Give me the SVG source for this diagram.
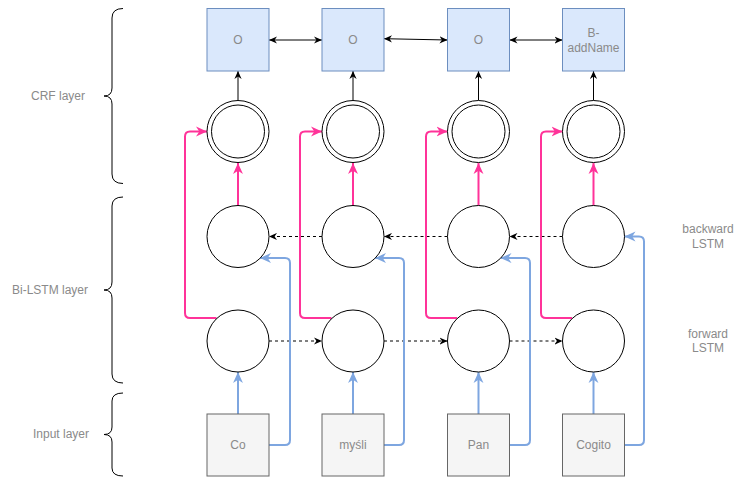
<svg xmlns="http://www.w3.org/2000/svg" width="737" height="477" viewBox="0 0 737 477">
<style>
text{font-family:"Liberation Sans",Arial,sans-serif;font-size:12px;fill:#8a8a8a;text-anchor:middle;dominant-baseline:central}
.out{fill:#dae8fc;stroke:#6c8ebf;stroke-width:1}
.inp{fill:#f5f5f5;stroke:#666666;stroke-width:1}
.c{fill:#fff;stroke:#000;stroke-width:1}
.blk{fill:none;stroke:#000;stroke-width:1}
.dash{fill:none;stroke:#000;stroke-width:1;stroke-dasharray:3 3}
.pink{fill:none;stroke:#ff3399;stroke-width:2;stroke-linejoin:round}
.blue{fill:none;stroke:#7ea6e0;stroke-width:2;stroke-linejoin:round}
.br{fill:none;stroke:#000;stroke-width:1}
</style>
<defs>
<marker id="ab" viewBox="0 0 10 10" refX="10" refY="5" markerWidth="8" markerHeight="8" markerUnits="userSpaceOnUse" orient="auto-start-reverse"><path d="M0,0.5 L10,5 L0,9.5 L3,5 Z" fill="#000"/></marker>
<marker id="ap" viewBox="0 0 10 10" refX="10" refY="5" markerWidth="11" markerHeight="11" markerUnits="userSpaceOnUse" orient="auto"><path d="M0,0.5 L10,5 L0,9.5 L3,5 Z" fill="#ff3399"/></marker>
<marker id="au" viewBox="0 0 10 10" refX="10" refY="5" markerWidth="11" markerHeight="11" markerUnits="userSpaceOnUse" orient="auto"><path d="M0,0.5 L10,5 L0,9.5 L3,5 Z" fill="#7ea6e0"/></marker>
</defs>

<g id="labels">
<path class="br" d="M123,8.5 Q112,8.5 112,18 L112,88 Q112,96 104,96 Q112,96 112,104 L112,174 Q112,183.5 123,183.5"/>
<text x="58" y="96">CRF layer</text>
<path class="br" d="M123,197 Q112,197 112,206 L112,282 Q112,290 104,290 Q112,290 112,298 L112,374 Q112,383 123,383"/>
<text x="50" y="290">Bi-LSTM layer</text>
<path class="br" d="M123,393 Q112,393 112,401 L112,427 Q112,434.5 104,434.5 Q112,434.5 112,442 L112,468 Q112,476 123,476"/>
<text x="61" y="434">Input layer</text>
<text x="708" y="229">backward</text>
<text x="708" y="244">LSTM</text>
<text x="708" y="334">forward</text>
<text x="708" y="348">LSTM</text>
</g>

<g id="connectors">
<!-- CRF circle to output -->
<path class="blk" d="M238,100.5 L238,71" marker-end="url(#ab)"/>
<path class="blk" d="M353,100.5 L353,71" marker-end="url(#ab)"/>
<path class="blk" d="M478.5,100.5 L478.5,71" marker-end="url(#ab)"/>
<path class="blk" d="M593.5,100.5 L593.5,71" marker-end="url(#ab)"/>
<!-- output chain -->
<path class="blk" d="M269,40 L322,40" marker-start="url(#ab)" marker-end="url(#ab)"/>
<path class="blk" d="M384,38.7 L447.5,40" marker-start="url(#ab)" marker-end="url(#ab)"/>
<path class="blk" d="M509.5,40 L562.5,40" marker-start="url(#ab)" marker-end="url(#ab)"/>
<!-- backward LSTM chain -->
<path class="dash" d="M322,236.5 L269,236.5" marker-end="url(#ab)"/>
<path class="dash" d="M447.5,236.5 L384,236.5" marker-end="url(#ab)"/>
<path class="dash" d="M562.5,236.5 L509.5,236.5" marker-end="url(#ab)"/>
<!-- forward LSTM chain -->
<path class="dash" d="M269,341 L322,341" marker-end="url(#ab)"/>
<path class="dash" d="M384,341 L447.5,341" marker-end="url(#ab)"/>
<path class="dash" d="M509.5,341 L562.5,341" marker-end="url(#ab)"/>
<!-- pink: backward to CRF -->
<path class="pink" d="M238,205.5 L238,163" marker-end="url(#ap)"/>
<path class="pink" d="M353,205.5 L353,163" marker-end="url(#ap)"/>
<path class="pink" d="M478.5,205.5 L478.5,163" marker-end="url(#ap)"/>
<path class="pink" d="M593.5,205.5 L593.5,163" marker-end="url(#ap)"/>
<!-- pink: forward to CRF -->
<path class="pink" d="M216.5,318 L190,318 Q185,318 185,313 L185,136.5 Q185,131.5 190,131.5 L207,131.5" marker-end="url(#ap)"/>
<path class="pink" d="M331.5,318 L305,318 Q300,318 300,313 L300,136.5 Q300,131.5 305,131.5 L322,131.5" marker-end="url(#ap)"/>
<path class="pink" d="M457,318 L431,318 Q426,318 426,313 L426,136.5 Q426,131.5 431,131.5 L447.5,131.5" marker-end="url(#ap)"/>
<path class="pink" d="M572,318 L546,318 Q541,318 541,313 L541,136.5 Q541,131.5 546,131.5 L562.5,131.5" marker-end="url(#ap)"/>
<!-- blue: input to forward -->
<path class="blue" d="M238,414 L238,372" marker-end="url(#au)"/>
<path class="blue" d="M353,414 L353,372" marker-end="url(#au)"/>
<path class="blue" d="M478.5,414 L478.5,372" marker-end="url(#au)"/>
<path class="blue" d="M593.5,414 L593.5,372" marker-end="url(#au)"/>
<!-- blue: input to backward -->
<path class="blue" d="M269,445 L285,445 Q290,445 290,440 L290,263 Q290,258 285,258 L260,258" marker-end="url(#au)"/>
<path class="blue" d="M384,445 L399,445 Q404,445 404,440 L404,263 Q404,258 399,258 L375,258" marker-end="url(#au)"/>
<path class="blue" d="M509.5,445 L525,445 Q530,445 530,440 L530,263 Q530,258 525,258 L500.5,258" marker-end="url(#au)"/>
<path class="blue" d="M624.5,445 L639,445 Q644,445 644,440 L644,241.5 Q644,236.5 639,236.5 L624.5,236.5" marker-end="url(#au)"/>
</g>

<g id="out1"><rect class="out" x="207" y="8.5" width="62" height="62.5"/><text x="238" y="40">O</text></g>
<g id="out2"><rect class="out" x="322" y="8.5" width="62" height="62.5"/><text x="353" y="40">O</text></g>
<g id="out3"><rect class="out" x="447.5" y="8.5" width="62" height="62.5"/><text x="478.5" y="40">O</text></g>
<g id="out4"><rect class="out" x="562.5" y="8.5" width="62" height="62.5"/><text x="593.5" y="33">B-</text><text x="593.5" y="47.5">addName</text></g>

<g id="crf1"><circle class="c" cx="238" cy="131.5" r="31"/><circle class="c" cx="238" cy="131.5" r="26.5"/></g>
<g id="crf2"><circle class="c" cx="353" cy="131.5" r="31"/><circle class="c" cx="353" cy="131.5" r="26.5"/></g>
<g id="crf3"><circle class="c" cx="478.5" cy="131.5" r="31"/><circle class="c" cx="478.5" cy="131.5" r="26.5"/></g>
<g id="crf4"><circle class="c" cx="593.5" cy="131.5" r="31"/><circle class="c" cx="593.5" cy="131.5" r="26.5"/></g>

<g id="bw1"><circle class="c" cx="238" cy="236.5" r="31"/></g>
<g id="bw2"><circle class="c" cx="353" cy="236.5" r="31"/></g>
<g id="bw3"><circle class="c" cx="478.5" cy="236.5" r="31"/></g>
<g id="bw4"><circle class="c" cx="593.5" cy="236.5" r="31"/></g>

<g id="fw1"><circle class="c" cx="238" cy="341" r="31"/></g>
<g id="fw2"><circle class="c" cx="353" cy="341" r="31"/></g>
<g id="fw3"><circle class="c" cx="478.5" cy="341" r="31"/></g>
<g id="fw4"><circle class="c" cx="593.5" cy="341" r="31"/></g>

<g id="in1"><rect class="inp" x="207" y="414" width="62" height="62"/><text x="238" y="445">Co</text></g>
<g id="in2"><rect class="inp" x="322" y="414" width="62" height="62"/><text x="353" y="445">myśli</text></g>
<g id="in3"><rect class="inp" x="447.5" y="414" width="62" height="62"/><text x="478.5" y="445">Pan</text></g>
<g id="in4"><rect class="inp" x="562.5" y="414" width="62" height="62"/><text x="593.5" y="445">Cogito</text></g>
</svg>
